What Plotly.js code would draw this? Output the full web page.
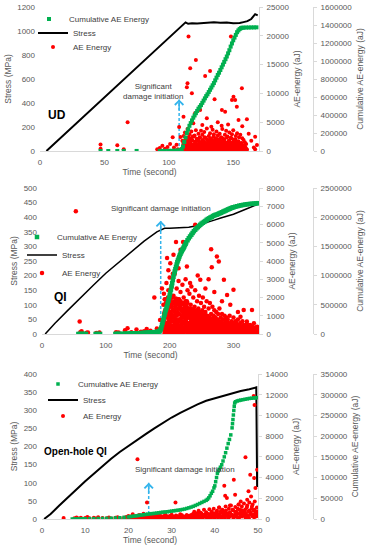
<!DOCTYPE html>
<html><head><meta charset="utf-8">
<script src="https://cdn.plot.ly/plotly-3.0.1.min.js"></script>
<style>html,body{margin:0;padding:0;background:#fff}#chart{width:373px;height:550px}</style>
</head><body><div id="chart"></div>
<script>
// ---------------- UD panel data ----------------
const udStressTime = [5,20,40,60,80,100,112,113,115,118,122,126,130,135,140,145,150,155,158,161,164,167,169];
const udStress     = [0,150,350,548,745,945,1065,1072,1060,1065,1062,1066,1068,1072,1068,1070,1064,1066,1074,1082,1100,1140,1130];

const udAeEarlyT = [47,47,60,65,68,91,93,95,97,99,101,103,104,106,107,108,109];
const udAeEarlyV = [1150,400,1000,300,5000,300,500,900,400,700,1200,2400,600,1100,300,4170,2430];
const udAeOutT = [115.3,116.6,121,114.5,114,117.9,128.2,132,135.5,156.7,150.2,151.5,149,152.8,141.2,143.7,120.4,124.3,129.5,111.4,154.1,167,168.4,167,160.6,148.2,119,126,138,146,133,141,157,162,164,166];
const udAeOutV = [19900,14360,15800,11750,11060,10020,13020,13890,8970,10880,9430,8850,8850,7690,7120,6820,6540,7120,5680,5950,5380,2480,1040,300,5500,19900,4800,4500,5000,4600,4200,4400,4300,3000,1800,600];
const udAeDenseAT = [110,110.5,111,111.5,112,112.5,113,113.5,114,114.5,
 115,115.5,116,116.5,117,117.5,118,118.5,119,119.5,
 120,120.5,121,121.5,122,122.5,123,123.5,124,124.5,
 125,125.5,126,126.5,127,127.5,128,128.5,129,129.5,
 130,130.5,131,131.5,132,132.5,133,133.5,134,134.5,
 135,135.5,136,136.5,137,137.5,138,138.5,139,139.5,
 140,140.5,141,141.5,142,142.5,143,143.5,144,144.5,
 145,145.5,146,146.5,147,147.5,148,148.5,149,149.5,
 150,150.5,151,151.5,152,152.5,153,153.5,154,154.5,
 155,155.5,156,156.5,157,157.5,158,158.5,159,159.5,160];
const udAeDenseAV = [300,1800,900,2600,400,3200,1500,700,2200,3800,
 500,1200,2900,800,1900,3400,600,2500,1100,300,
 2700,1600,3600,900,2100,400,3000,1300,2400,700,
 3500,1000,2800,500,1700,3300,1200,2300,600,3900,
 1400,200,2600,1800,3100,900,2000,500,3700,1500,
 2900,700,2200,1300,3400,400,2700,1000,1900,3000,
 600,2400,1600,3800,800,2100,300,2800,1400,3500,
 1100,2500,700,1800,3200,500,2300,1200,2900,900,
 3600,400,2000,1500,2600,800,3100,300,1700,2400,
 1000,2800,600,1300,2200,400,1900,900,1500,600,1200];
const udAeDenseBT = [110.25,110.75,111.25,111.75,112.25,112.75,113.25,113.75,114.25,114.75,
 115.25,115.75,116.25,116.75,117.25,117.75,118.25,118.75,119.25,119.75,
 120.25,120.75,121.25,121.75,122.25,122.75,123.25,123.75,124.25,124.75,
 125.25,125.75,126.25,126.75,127.25,127.75,128.25,128.75,129.25,129.75,
 130.25,130.75,131.25,131.75,132.25,132.75,133.25,133.75,134.25,134.75,
 135.25,135.75,136.25,136.75,137.25,137.75,138.25,138.75,139.25,139.75,
 140.25,140.75,141.25,141.75,142.25,142.75,143.25,143.75,144.25,144.75,
 145.25,145.75,146.25,146.75,147.25,147.75,148.25,148.75,149.25,149.75,
 150.25,150.75,151.25,151.75,152.25,152.75,153.25,153.75,154.25,154.75,
 155.25,155.75,156.25,156.75,157.25,157.75,158.25,158.75,159.25,159.75];
const udAeDenseBV = [100,600,1400,200,900,1700,300,1100,500,1500,
 2000,250,800,1300,450,1000,1900,150,700,1200,
 350,1600,850,200,1100,550,1800,300,950,1400,
 650,200,1250,750,1700,400,1000,550,1350,250,
 900,1600,450,1150,700,200,1450,850,350,1050,
 1800,600,300,1250,750,1550,400,950,200,1300,
 650,1100,350,1700,800,250,1200,500,1000,1450,
 300,850,600,1350,200,950,700,1250,450,1050,
 300,800,1500,550,250,1100,650,900,350,750,
 1200,400,600,950,300,700,500,400,600,250];
const udAeDenseCT = [110.7,111.7,112.7,113.7,114.7,115.7,116.7,117.7,118.7,119.7,
 120.7,121.7,122.7,123.7,124.7,125.7,126.7,127.7,128.7,129.7,
 130.7,131.7,132.7,133.7,134.7,135.7,136.7,137.7,138.7,139.7,
 140.7,141.7,142.7,143.7,144.7,145.7,146.7,147.7,148.7,149.7,
 150.7,151.7,152.7,153.7,154.7,155.7,156.7,157.7,158.7,159.7,160.7];
const udAeDenseCV = [50,300,150,450,80,250,500,120,350,200,
 40,420,180,300,90,520,260,130,380,60,
 220,460,150,330,100,280,540,70,400,190,
 310,120,470,240,60,360,200,430,100,290,
 150,500,80,340,220,40,410,170,280,110,250];
const udAeDenseDT = [112.2,112.7,113.2,113.7,114.2,114.7,115.2,115.7,116.2,116.7,117.2,117.7,
 118.2,118.7,119.2,119.7,120.2,120.7,121.2,121.7,122.2,122.7,123.2,123.7,
 124.2,124.7,125.2,125.7,126.2,126.7,127.2,127.7,128.2,128.7,129.2,129.7,
 130.2,130.7,131.2,131.7,132.2,132.7,133.2,133.7,134.2,134.7,135.2,135.7,
 136.2,136.7,137.2,137.7,138.2,138.7,139.2,139.7,140.2,140.7,141.2,141.7,
 142.2,142.7,143.2,143.7,144.2,144.7,145.2,145.7,146.2,146.7,147.2,147.7,
 148.2,148.7,149.2,149.7,150.2,150.7,151.2,151.7,152.2,152.7,153.2,153.7,
 154.2,154.7,155.2,155.7,156.2,156.7,157.2,157.7,158.2,158.7,159.2,159.7];
const udAeDenseDV = [1200,400,2000,800,1600,100,2400,600,1400,900,2200,300,
 1800,700,1000,2500,200,1300,500,2100,1100,400,1700,800,
 2300,150,1500,600,1900,1000,350,2400,700,1200,500,2000,
 900,1600,250,1300,2200,600,1800,400,1100,2500,800,1400,
 300,1700,1000,2100,500,1500,200,1900,700,1200,2300,450,
 1600,900,2000,300,1300,750,2400,550,1100,1800,250,1500,
 850,2200,400,1000,1700,600,1300,2000,350,900,1500,500,
 1200,300,1000,700,1400,200,900,500,800,300,600,400];

const udCumTime = [47,53,60,65,75,93,95,97,100,102,104,106,107,
 108,109,110,111,112,113,114,115,116,117,118,119,120,121,122,123,124,125,126,127,128,129,130,
 131,132,133,134,135,136,137,138,139,140,141,142,143,144,145,146,147,148,149,150,
 151,152,153,154,155,156,157,158,160,162,164,166,168];
const udCum = [200,300,500,600,800,1000,1200,1500,2000,2500,3000,3500,4000,
 5000,10000,20000,50000,100000,150000,200000,240000,280000,310000,340000,370000,395000,420000,445000,470000,490000,510000,535000,560000,585000,610000,630000,
 655000,680000,705000,730000,755000,785000,815000,845000,870000,900000,930000,960000,990000,1020000,1050000,1085000,1120000,1160000,1195000,1230000,
 1260000,1290000,1320000,1340000,1355000,1365000,1370000,1370000,1372000,1372000,1373000,1373000,1374000];

// ---------------- QI panel data ----------------
const qiStressTime = [5,20,40,60,80,100,120,140,160,180,188,192,200,215,230,240,250,260,270,280,300,320,340];
const qiStress     = [0,36,80,124,166,208,245,282,318,350,358,362,362,363,366,370,376,382,390,397,410,428,446];

const qiAeOutT = [53,59,70,60,62,72,85,90,116,120,130,134,140,148,155,160,164,170,176,180,185,188,
 240,221,210,217,206,265,274,277,266,196,201,227,248,261,285,290,300,316,329,311,321,332,337,
 198,205,214,232,244,256,270,282,295,307];
const qiAeOutV = [6720,680,70,100,150,80,60,80,100,80,200,310,100,250,120,150,270,180,2000,300,770,2500,
 5990,5040,5040,4620,4340,4650,4250,3970,3660,4160,3880,3700,2970,3000,2970,2140,2420,1320,1320,950,680,590,400,
 3500,3300,3600,2800,3200,2500,2300,1800,1600,1200];
const qiAeDenseAT = [190,191,192,193,194,195,196,197,198,199,
 200,201,202,203,204,205,206,207,208,209,
 210,211,212,213,214,215,216,217,218,219,
 220,221,222,223,224,225,226,227,228,229,
 230,231,232,233,234,235,236,237,238,239,
 240,241,242,243,244,245,246,247,248,249,
 250,251,252,253,254,255,256,257,258,259,
 260,261,262,263,264,265,266,267,268,269,
 270,271,272,273,274,275,276,277,278,279,
 280,281,282,283,284,285,286,287,288,289,
 290,291,292,293,294,295,296,297,298,299,
 300,301,302,303,304,305,306,307,308,309,
 310,311,312,313,314,315,316,317,318,319,
 320,321,322,323,324,325,326,327,328,329,
 330,331,332,333,334,335,336,337,338,339,340];
const qiAeDenseAV = [800,2200,1200,300,1900,2800,600,1500,2400,1000,
 3100,700,1800,2600,400,1300,2100,900,3300,1600,
 500,2500,1100,1900,2900,700,1400,2300,300,1700,
 2700,1000,2000,600,1500,3000,800,1800,2400,400,
 1300,2200,900,1600,2600,500,1200,2000,700,1500,
 2400,300,1100,1800,800,1400,2100,600,1000,1700,
 400,1300,2000,900,1500,700,1200,300,1800,1000,
 600,1400,900,1700,400,1100,700,1500,300,1000,
 1300,500,900,1200,200,800,1100,600,1400,400,
 900,700,1100,300,800,500,1000,200,700,900,
 400,800,600,300,1000,500,200,700,400,600,
 900,300,500,700,200,600,400,800,300,500,
 200,600,400,300,700,150,500,350,250,450,
 300,550,200,400,150,350,500,250,100,300,
 400,200,300,100,250,350,150,200,100,250,150];
const qiAeDenseBT = [190.5,191.5,192.5,193.5,194.5,195.5,196.5,197.5,198.5,199.5,
 200.5,201.5,202.5,203.5,204.5,205.5,206.5,207.5,208.5,209.5,
 210.5,211.5,212.5,213.5,214.5,215.5,216.5,217.5,218.5,219.5,
 220.5,221.5,222.5,223.5,224.5,225.5,226.5,227.5,228.5,229.5,
 230.5,231.5,232.5,233.5,234.5,235.5,236.5,237.5,238.5,239.5,
 240.5,241.5,242.5,243.5,244.5,245.5,246.5,247.5,248.5,249.5,
 250.5,251.5,252.5,253.5,254.5,255.5,256.5,257.5,258.5,259.5,
 260.5,261.5,262.5,263.5,264.5,265.5,266.5,267.5,268.5,269.5,
 270.5,271.5,272.5,273.5,274.5,275.5,276.5,277.5,278.5,279.5,
 280.5,281.5,282.5,283.5,284.5,285.5,286.5,287.5,288.5,289.5,
 290.5,291.5,292.5,293.5,294.5,295.5,296.5,297.5,298.5,299.5,
 300.5,301.5,302.5,303.5,304.5,305.5,306.5,307.5,308.5,309.5,
 310.5,311.5,312.5,313.5,314.5,315.5,316.5,317.5,318.5,319.5,
 320.5,321.5,322.5,323.5,324.5,325.5,326.5,327.5,328.5,329.5,
 330.5,331.5,332.5,333.5,334.5,335.5,336.5,337.5,338.5,339.5];
const qiAeDenseBV = [400,1000,150,1300,600,200,1100,500,1600,300,
 1200,200,900,1500,100,700,1300,400,1000,250,
 1400,600,100,1100,800,300,1500,500,900,200,
 700,1300,350,1000,150,800,1200,450,600,1000,
 250,900,500,1100,150,700,400,1000,300,800,
 600,1000,200,700,450,900,150,550,800,300,
 700,200,600,400,850,150,500,700,250,550,
 350,700,150,500,800,250,450,200,650,400,
 150,600,350,200,550,300,100,450,250,650,
 400,150,500,300,100,450,250,600,150,350,
 200,450,100,350,250,150,400,300,100,250,
 150,350,250,100,400,200,150,300,100,250,
 100,250,150,300,100,200,80,250,150,100,
 200,100,150,60,250,100,150,80,200,100,
 50,150,100,60,120,80,50,100,60,80];
const qiAeDenseCT = [192,194,196,198,200,202,204,206,208,210,
 212,214,216,218,220,222,224,226,228,230,
 232,234,236,238,240,242,244,246,248,250,
 252,254,256,258,260,262,264,266,268,270,
 272,274,276,278,280,282,284,286,288,290,
 292,294,296,298,300,302,304,306,308,310,
 312,314,316,318,320,322,324,326,328,330,
 332,334,336,338];
const qiAeDenseCV = [50,200,100,300,20,150,250,80,180,40,
 120,280,60,220,100,30,170,260,90,140,
 50,230,110,10,190,70,250,130,40,160,
 90,210,60,120,30,180,100,70,150,40,
 110,20,130,80,50,100,30,90,60,40,
 80,20,70,50,30,60,20,40,50,10,
 40,30,20,50,10,30,20,40,10,30,
 20,10,30,20];
const qiAeDenseDT = [190.25,190.75,191.25,191.75,192.25,192.75,193.25,193.75,194.25,194.75,
 195.25,195.75,196.25,196.75,197.25,197.75,198.25,198.75,199.25,199.75,
 200.25,200.75,201.25,201.75,202.25,202.75,203.25,203.75,204.25,204.75,
 205.25,205.75,206.25,206.75,207.25,207.75,208.25,208.75,209.25,209.75,
 210.25,210.75,211.25,211.75,212.25,212.75,213.25,213.75,214.25,214.75,
 215.25,215.75,216.25,216.75,217.25,217.75,218.25,218.75,219.25,219.75,
 220.25,220.75,221.25,221.75,222.25,222.75,223.25,223.75,224.25,224.75,
 225.25,225.75,226.25,226.75,227.25,227.75,228.25,228.75,229.25,229.75,
 230.25,230.75,231.25,231.75,232.25,232.75,233.25,233.75,234.25,234.75,
 235.25,235.75,236.25,236.75,237.25,237.75,238.25,238.75,239.25,239.75,
 240.25,240.75,241.25,241.75,242.25,242.75,243.25,243.75,244.25,244.75,
 245.25,245.75,246.25,246.75,247.25,247.75,248.25,248.75,249.25,249.75,
 250.25,250.75,251.25,251.75,252.25,252.75,253.25,253.75,254.25,254.75,
 255.25,255.75,256.25,256.75,257.25,257.75,258.25,258.75,259.25,259.75,
 260.25,260.75,261.25,261.75,262.25,262.75,263.25,263.75,264.25,264.75,
 265.25,265.75,266.25,266.75,267.25,267.75,268.25,268.75,269.25,269.75,
 270.25,270.75,271.25,271.75,272.25,272.75,273.25,273.75,274.25,274.75,
 275.25,275.75,276.25,276.75,277.25,277.75,278.25,278.75,279.25,279.75,
 280.25,280.75,281.25,281.75,282.25,282.75,283.25,283.75,284.25,284.75,
 285.25,285.75,286.25,286.75,287.25,287.75,288.25,288.75,289.25,289.75,
 290.25,290.75,291.25,291.75,292.25,292.75,293.25,293.75,294.25,294.75,
 295.25,295.75,296.25,296.75,297.25,297.75,298.25,298.75,299.25,299.75];
const qiAeDenseDV = [1600,300,1100,700,1900,200,1300,500,1700,900,
 400,1800,1000,600,2000,250,1400,800,1500,350,
 1200,1900,500,1600,100,1100,700,2000,900,1300,
 300,1700,1000,500,1800,1200,200,1500,800,1950,
 600,1400,1000,1750,300,1200,700,1600,450,1900,
 1100,250,1500,800,1800,500,1300,1000,1650,350,
 1200,1700,600,1400,900,200,1600,1100,500,1800,
 800,1300,300,1500,1000,1700,600,1200,400,1400,
 900,1300,200,1100,600,1400,800,350,1200,700,
 1000,300,1350,550,900,1150,250,1300,700,1000,
 450,1200,800,150,1050,650,1300,400,900,1100,
 300,950,600,1200,200,800,1050,500,1150,350,
 900,600,1100,250,750,1000,450,850,150,1050,
 550,900,300,700,1000,400,800,200,950,600,
 750,350,900,150,650,500,850,300,700,450,
 600,850,200,550,750,350,650,100,800,450,
 300,700,500,150,650,400,750,250,550,350,
 600,200,500,700,300,450,150,650,400,550,
 250,500,350,600,150,450,300,550,200,400,
 500,250,400,100,550,300,450,200,350,500,
 150,400,300,450,200,350,100,400,250,300,
 350,150,300,400,100,250,350,200,300,150];
const qiAeDenseET = [300.25,300.75,301.25,301.75,302.25,302.75,303.25,303.75,304.25,304.75,
 305.25,305.75,306.25,306.75,307.25,307.75,308.25,308.75,309.25,309.75,
 310.25,310.75,311.25,311.75,312.25,312.75,313.25,313.75,314.25,314.75,
 315.25,315.75,316.25,316.75,317.25,317.75,318.25,318.75,319.25,319.75,
 320.25,320.75,321.25,321.75,322.25,322.75,323.25,323.75,324.25,324.75,
 325.25,325.75,326.25,326.75,327.25,327.75,328.25,328.75,329.25,329.75,
 330.25,330.75,331.25,331.75,332.25,332.75,333.25,333.75,334.25,334.75,
 335.25,335.75,336.25,336.75,337.25,337.75,338.25,338.75,339.25,339.75];
const qiAeDenseEV = [200,350,100,300,150,250,400,50,300,200,
 100,350,250,150,300,50,200,350,100,250,
 300,150,250,50,350,200,100,300,150,250,
 50,200,300,100,250,150,350,100,200,50,
 250,100,200,300,50,150,250,100,200,150,
 100,250,50,200,150,100,250,50,150,200,
 150,50,200,100,150,250,50,100,200,50,
 100,150,50,200,100,50,150,100,50,100];

const qiCumTime = [57,59,61,63,65,67,69,84,86,88,91,115,117,119,121,125,127,
 130,132,134,136,138,140,142,144,146,148,150,152,154,156,158,160,162,164,166,168,170,172,174,176,178,180,182,
 184,185,186,187,188,189,190,191,192,193,194,195,196,197,198,199,200,201,202,203,204,205,206,207,208,209,
 210,211,212,213,214,215,216,217,218,219,220,221,222,223,224,225,226,228,230,232,234,236,238,240,242,244,246,248,
 250,252,254,256,258,260,262,264,266,268,270,272,274,276,278,280,282,284,286,288,290,292,294,296,298,
 300,303,306,309,312,315,318,321,324,327,330,333,336,339];
const qiCum = [200,200,200,200,200,200,200,500,500,500,500,1500,1500,1500,1500,2000,2000,
 3000,3500,4000,5000,6000,7000,8000,9000,10000,11000,12000,13000,14000,15500,17000,18000,20000,21000,23000,24500,26000,28000,29500,31000,33000,36000,40000,
 45000,60000,80000,110000,150000,195000,240000,285000,330000,370000,410000,445000,480000,525000,570000,615000,660000,710000,760000,815000,870000,925000,980000,1025000,1070000,1110000,
 1150000,1190000,1230000,1260000,1290000,1320000,1350000,1375000,1400000,1420000,1440000,1460000,1480000,1500000,1525000,1545000,1570000,1605000,1640000,1670000,1700000,1730000,1760000,1785000,1810000,1830000,1850000,1870000,
 1890000,1905000,1920000,1935000,1955000,1970000,1980000,1995000,2005000,2020000,2030000,2040000,2045000,2055000,2065000,2075000,2085000,2095000,2105000,2115000,2125000,2135000,2145000,2155000,2162000,
 2170000,2180000,2188000,2197000,2204000,2210000,2216000,2221000,2225000,2228000,2231000,2234000,2237000,2240000];

// ---------------- Open-hole QI panel data ----------------
const ohStressTime = [0.5,1,2,4,6,8,10,12,14,16,18,20,22,24,26,28,30,32,34,36,38,40,42,44,46,48,49.6,49.8];
const ohStress     = [0,4,14,37,60,82,104,125,146,166,185,202,218,234,250,266,280,293,305,316,326,333,341,347,353,358,363,88];

const ohAeEarlyT = [5,7.5,8,8.5,9,10,10.5,11,12,12.5,13,14,15,15.5,16,17,17.5,18,19,19.5];
const ohAeEarlyV = [100,80,150,60,120,90,200,70,130,50,160,100,80,140,60,110,170,90,130,200];
const ohAeOutT = [22.1,24.3,30.9,42.2,42.4,44.4,42.8,44.7,47.1,47.8,48.2,49.1,49,49.2,48.4,47.5,49.4,49.8,46,45.5,43.5,41];
const ohAeOutV = [5780,1600,1600,3200,2250,3790,2020,2340,5970,2670,4270,3950,11880,11010,2180,1860,2990,4750,1700,1400,1300,1100];
const ohAeBand1T = [20,20.5,21,21.5,22,22.5,23,23.5,24,24.5,25,25.5,26,26.5,27,27.5,28,28.5,29,29.5,30,30.5,31,31.5,32,32.5,33,33.5,34,34.5,35];
const ohAeBand1V = [300,150,450,80,250,380,120,500,200,60,350,280,150,420,90,300,200,480,130,260,400,70,330,180,450,240,110,380,280,160,500];
const ohAeBand2T = [20.25,20.75,21.25,21.75,22.25,22.75,23.25,23.75,24.25,24.75,25.25,25.75,26.25,26.75,27.25,27.75,28.25,28.75,29.25,29.75,30.25,30.75,31.25,31.75,32.25,32.75,33.25,33.75,34.25,34.75];
const ohAeBand2V = [100,250,50,180,320,90,220,40,150,280,60,200,120,30,260,80,170,310,50,140,230,70,190,100,350,40,160,270,90,210];
const ohAeBand3T = [35,35.25,35.5,35.75,36,36.25,36.5,36.75,37,37.25,37.5,
 37.75,38,38.25,38.5,38.75,39,39.25,39.5,39.75,40,40.25,
 40.5,40.75,41,41.25,41.5,41.75,42,42.25,42.5,42.75,43,
 43.25,43.5,43.75,44,44.25,44.5,44.75,45,45.25,45.5,45.75,
 46,46.25,46.5,46.75,47,47.25,47.5,47.75,48,48.25,48.5,
 48.75,49,49.25,49.5,49.75,50];
const ohAeBand3V = [400,700,200,550,300,800,150,600,450,250,900,
 350,650,500,150,950,400,700,250,1000,550,300,
 800,450,1100,200,650,900,350,750,1200,500,300,
 1000,600,1300,400,850,250,1150,700,500,1400,900,
 300,1200,650,1500,900,450,1300,750,1600,550,1000,
 1400,800,1700,600,1100,500];
const ohAeBand4T = [35.1,35.5,35.9,36.3,36.7,37.1,37.5,37.9,38.3,38.7,39.1,39.5,39.9,40.3,40.7,41.1,41.5,41.9,42.3,42.7,
 43.1,43.5,43.9,44.3,44.7,45.1,45.5,45.9,46.3,46.7,47.1,47.5,47.9,48.3,48.7,49.1,49.5,49.9];
const ohAeBand4V = [100,250,50,300,150,80,350,200,40,280,120,400,60,230,180,450,90,300,140,500,
 70,260,350,110,420,200,60,380,250,480,150,320,90,450,270,180,550,300];
const ohAeBand5T = [20.1,20.4,20.7,21,21.3,21.6,21.9,22.2,22.5,22.8,
 23.1,23.4,23.7,24,24.3,24.6,24.9,25.2,25.5,25.8,
 26.1,26.4,26.7,27,27.3,27.6,27.9,28.2,28.5,28.8,
 29.1,29.4,29.7,30,30.3,30.6,30.9,31.2,31.5,31.8,
 32.1,32.4,32.7,33,33.3,33.6,33.9,34.2,34.5,34.8,
 35.1,35.4,35.7,36,36.3,36.6,36.9,37.2,37.5,37.8,
 38.1,38.4,38.7,39,39.3,39.6,39.9,40.2,40.5,40.8,
 41.1,41.4,41.7,42,42.3,42.6,42.9,43.2,43.5,43.8,
 44.1,44.4,44.7,45,45.3,45.6,45.9,46.2,46.5,46.8,
 47.1,47.4,47.7,48,48.3,48.6,48.9,49.2,49.5,49.8];
const ohAeBand5V = [150,50,250,100,200,30,300,120,60,220,
 90,180,40,260,140,70,310,20,200,110,
 240,60,170,330,90,150,30,270,120,200,
 50,190,280,100,230,40,160,300,80,210,
 130,360,60,240,170,20,290,110,380,150,
 250,450,100,350,600,200,500,150,400,300,
 550,100,450,250,650,350,150,500,700,300,
 400,750,200,600,300,800,450,150,650,350,
 900,250,700,450,1000,150,600,850,350,750,
 500,1100,300,800,600,1200,400,900,250,700];

const ohCumTime = [7,7.5,8,8.5,9,9.5,10,11,12,13,14,15,16,17,18,19,
 20,20.5,21,21.5,22,22.5,23,23.5,24,24.5,25,25.5,26,26.5,27,27.5,28,28.5,29,29.5,30,30.5,31,31.5,32,32.5,33,33.5,34,34.5,35,35.5,36,36.5,37,37.5,38,
 38.3,38.6,38.9,39.2,39.5,39.8,40,40.2,40.4,40.6,40.8,41,41.3,41.6,41.9,42.2,42.5,42.8,43.1,43.4,43.7,44,44.1,44.2,44.3,44.4,44.5,44.6,
 44.8,45.2,45.6,46,46.5,47,47.5,48,48.5,49,49.4,49.8];
const ohCum = [0,0,100,200,300,400,500,700,900,1100,1400,1700,2000,2500,3000,4000,
 5000,5800,6500,7200,8000,8800,9500,10200,11000,11700,12500,13000,13500,14300,15000,15800,16500,17000,17500,18200,19000,19800,20500,21200,22000,23000,24000,25500,27000,28700,30500,32700,35000,37500,40000,42500,45000,
 47500,51000,56000,62000,67000,75000,80000,90000,100000,110000,116000,120000,125000,131000,140000,150000,160000,171000,182000,192000,203000,220000,230000,240000,251000,262000,272000,280000,
 283000,285000,286000,287000,288000,289000,290000,291000,291500,292000,292500,293000];

// Significant damage initiation markers [UD, QI, Open-hole QI]
const arrowTime = [108, 186, 24.7];
const arrowTop  = [430, 388, 100];

const seriesNames = ['Cumulative AE Energy', 'Stress', 'AE Energy'];
const panelLabels = ['UD', 'QI', 'Open-hole QI'];
const noteText = 'Significant damage initiation';

// ---------------- styling / layout ----------------
const W = 373, H = 550;
const px = v => v / W;
const py = v => 1 - v / H;
const FONT = 'Liberation Sans, Arial, sans-serif';
const GRAY = '#595959';
const LINEC = '#D9D9D9';
const RED = '#FF0000', GREEN = '#00B050', CYAN = '#33B4EC';

const cat = (...a) => [].concat(...a);

function panel(xs, ys, ys2, ys3, legs, d) {
  return [
    {type:'scatter', mode:'lines', x:[d.at, d.at], y:[0, d.top], xaxis:xs, yaxis:ys, showlegend:false,
     line:{color:CYAN, width:1.5, dash:'3px,2px'}, hoverinfo:'skip'},
    {type:'scatter', mode:'lines', x:d.st, y:d.s, xaxis:xs, yaxis:ys, name:seriesNames[1], legend:legs[1],
     line:{color:'#000', width:d.sw}},
    {type:'scatter', mode:'markers', x:d.aet, y:d.aev, xaxis:xs, yaxis:ys2, name:seriesNames[2], legend:legs[2],
     marker:{color:RED, size:d.rs}},
    {type:'scatter', mode:'markers', x:d.ct, y:d.c, xaxis:xs, yaxis:ys3, name:seriesNames[0], legend:legs[0],
     marker:{color:GREEN, size:d.cs, symbol:'square'}}
  ];
}

const data = [].concat(
  panel('x','y','y2','y3',['legend','legend2','legend3'], {
    at:arrowTime[0], top:arrowTop[0], st:udStressTime, s:udStress, sw:2, rs:4,
    aet:cat(udAeEarlyT,udAeOutT,udAeDenseAT,udAeDenseBT,udAeDenseCT,udAeDenseDT),
    aev:cat(udAeEarlyV,udAeOutV,udAeDenseAV,udAeDenseBV,udAeDenseCV,udAeDenseDV),
    ct:udCumTime, c:udCum, cs:4}),
  panel('x2','y4','y5','y6',['legend4','legend5','legend6'], {
    at:arrowTime[1], top:arrowTop[1], st:qiStressTime, s:qiStress, sw:1.5, rs:4.5,
    aet:cat(qiAeOutT,qiAeDenseAT,qiAeDenseBT,qiAeDenseCT,qiAeDenseDT,qiAeDenseET),
    aev:cat(qiAeOutV,qiAeDenseAV,qiAeDenseBV,qiAeDenseCV,qiAeDenseDV,qiAeDenseEV),
    ct:qiCumTime, c:qiCum, cs:4.5}),
  panel('x3','y7','y8','y9',['legend7','legend8','legend9'], {
    at:arrowTime[2], top:arrowTop[2], st:ohStressTime, s:ohStress, sw:2, rs:4,
    aet:cat(ohAeEarlyT,ohAeOutT,ohAeBand1T,ohAeBand2T,ohAeBand3T,ohAeBand4T,ohAeBand5T),
    aev:cat(ohAeEarlyV,ohAeOutV,ohAeBand1V,ohAeBand2V,ohAeBand3V,ohAeBand4V,ohAeBand5V),
    ct:ohCumTime, c:ohCum, cs:3.5})
);

const tf = {family:FONT, size:8, color:GRAY};
const titleFont = {family:FONT, size:8.5, color:GRAY};

function xAx(left, right, range, dtick, anchor) {
  return {domain:[px(left), px(right)], range:range, dtick:dtick, tick0:0, anchor:anchor,
    showgrid:false, zeroline:false, showline:true, linecolor:LINEC, linewidth:1, ticks:'',
    tickfont:tf, tickformat:'d', ticklabelstandoff:3,
    title:{text:'Time (second)', font:titleFont, standoff:2}, fixedrange:true};
}
function yLeft(top, bottom, range, dtick, anchor) {
  return {domain:[py(bottom), py(top)], range:range, dtick:dtick, tick0:0, anchor:anchor,
    showgrid:false, zeroline:false, showline:false, ticks:'', tickfont:tf, tickformat:'d',
    ticklabelstandoff:4, title:{text:'Stress (MPa)', font:titleFont, standoff:4}, fixedrange:true};
}
function yAE(over, anchor, range, dtick) {
  return {overlaying:over, side:'right', anchor:anchor, range:range, dtick:dtick, tick0:0,
    showgrid:false, zeroline:false, showline:true, linecolor:LINEC, ticks:'outside', ticklen:3,
    tickcolor:LINEC, tickfont:tf, tickformat:'d', ticklabelstandoff:2,
    title:{text:'AE-energy (aJ)', font:titleFont, standoff:5}, fixedrange:true};
}
function yCum(over, range, dtick) {
  return {overlaying:over, side:'right', anchor:'free', position:px(313), range:range, dtick:dtick, tick0:0,
    showgrid:false, zeroline:false, showline:true, linecolor:LINEC, ticks:'outside', ticklen:3,
    tickcolor:LINEC, tickfont:tf, tickformat:'d', ticklabelstandoff:2,
    title:{text:'Cumulative AE-energy (aJ)', font:titleFont, standoff:5}, fixedrange:true};
}
function leg(textX, yc) {
  return {x:px(textX - 40), y:py(yc), xanchor:'left', yanchor:'middle', bgcolor:'rgba(0,0,0,0)',
    borderwidth:0, itemwidth:30, font:{family:FONT, size:8, color:'#404040'}};
}
function label(txt, x, y, size, bold) {
  return {text: bold ? '<b>' + txt + '</b>' : txt, xref:'paper', yref:'paper', x:px(x), y:py(y),
    xanchor:'center', yanchor:'middle', showarrow:false,
    font:{family:FONT, size:size, color: bold ? '#000' : '#404040'}};
}
function head(xs, ys, t, top) {
  return {xref:xs, yref:ys, x:t, y:top, ax:0, ay:12, text:'', showarrow:true, standoff:0,
    arrowhead:4, arrowsize:1.1, arrowwidth:1.5, arrowcolor:CYAN};
}

const layout = {
  width:W, height:H, margin:{l:0, r:0, t:0, b:0}, paper_bgcolor:'#fff', plot_bgcolor:'rgba(0,0,0,0)',
  font:{family:FONT, color:GRAY}, showlegend:true,
  xaxis: xAx(40, 259, [0,170], 50, 'y'),
  yaxis: yLeft(7, 151, [0,1200], 200, 'x'),
  yaxis2: yAE('y', 'x', [0,25000], 5000),
  yaxis3: yCum('y', [0,1600000], 200000),
  xaxis2: xAx(42, 259, [0,340], 100, 'y4'),
  yaxis4: yLeft(188, 334, [0,500], 50, 'x2'),
  yaxis5: yAE('y4', 'x2', [0,8000], 1000),
  yaxis6: yCum('y4', [0,2500000], 500000),
  xaxis3: xAx(42, 258, [0,50], 10, 'y7'),
  yaxis7: yLeft(374, 519, [0,400], 50, 'x3'),
  yaxis8: yAE('y7', 'x3', [0,14000], 2000),
  yaxis9: yCum('y7', [0,350000], 50000),
  legend: leg(69, 19), legend2: leg(73, 33), legend3: leg(73, 47),
  legend4: leg(57, 237), legend5: leg(62, 255), legend6: leg(62, 273),
  legend7: leg(78, 384), legend8: leg(83, 400), legend9: leg(83, 416),
  annotations: [
    label(panelLabels[0], 57, 115, 12, true),
    label(panelLabels[1], 60, 297, 12, true),
    label(panelLabels[2], 75, 451, 10, true),
    label('Significant<br>damage initiation', 153, 91.5, 8, false),
    label(noteText, 161, 208, 8, false),
    label(noteText, 185, 469, 8, false),
    head('x', 'y', arrowTime[0], arrowTop[0]),
    head('x2', 'y4', arrowTime[1], arrowTop[1]),
    head('x3', 'y7', arrowTime[2], arrowTop[2])
  ]
};

Plotly.newPlot('chart', data, layout, {staticPlot:true, displayModeBar:false});
</script></body></html>
